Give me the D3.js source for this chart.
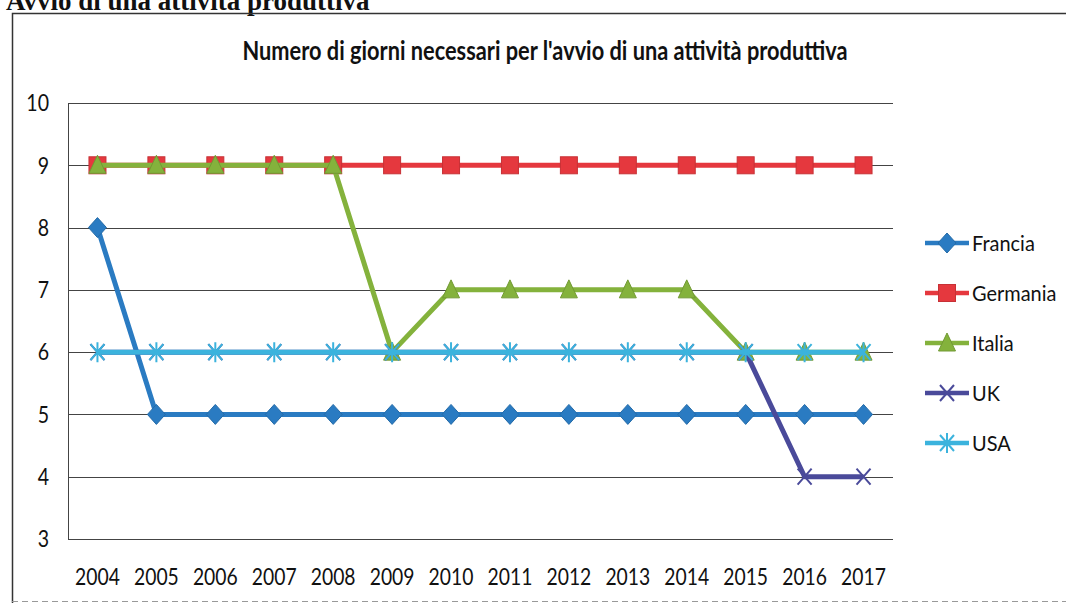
<!DOCTYPE html>
<html>
<head>
<meta charset="utf-8">
<script src="https://cdn.jsdelivr.net/npm/d3@7"></script>
<style>
  body { margin: 0; background: #fff; }
  svg { display: block; }
</style>
</head>
<body>
<div id="chart"></div>
<script>
var width = 1066;
var height = 603;

// data
var years = ["2004","2005","2006","2007","2008","2009","2010","2011","2012","2013","2014","2015","2016","2017"];
var yTicks = [3, 4, 5, 6, 7, 8, 9, 10];
var francia  = [8, 5, 5, 5, 5, 5, 5, 5, 5, 5, 5, 5, 5, 5];
var germania = [9, 9, 9, 9, 9, 9, 9, 9, 9, 9, 9, 9, 9, 9];
var italia   = [9, 9, 9, 9, 9, 6, 7, 7, 7, 7, 7, 6, 6, 6];
var uk       = [6, 6, 6, 6, 6, 6, 6, 6, 6, 6, 6, 6, 4, 4];
var usa      = [6, 6, 6, 6, 6, 6, 6, 6, 6, 6, 6, 6, 6, 6];
var seriesNames = ["Francia", "Germania", "Italia", "UK", "USA"];

var series = [
    {name: seriesNames[0], values: francia,  color: '#2a7bc2', marker: 'diamond'},
    {name: seriesNames[1], values: germania, color: '#e5383e', marker: 'square'},
    {name: seriesNames[2], values: italia,   color: '#84b23c', marker: 'triangle'},
    {name: seriesNames[3], values: uk,       color: '#4a4a9a', marker: 'x'},
    {name: seriesNames[4], values: usa,      color: '#3bb3dd', marker: 'star'}
];

var svg = d3.select("#chart").append("svg").attr('width', width).attr('height', height);

// squeeze a text horizontally so a large font looks like the narrow scan lettering
function condense(sel, factor) {
    sel.each(function() {
        var w = this.getComputedTextLength();
        d3.select(this).attr('textLength', w * factor).attr('lengthAdjust', 'spacingAndGlyphs');
    });
}

// cropped heading at the top of the scan
svg.append('text')
   .attr('x', 6).attr('y', 10)
   .text('Avvio di una attività produttiva')
   .style('font-family', '"Liberation Serif", serif')
   .style('font-weight', 'bold')
   .style('font-size', '27px')
   .attr('fill', '#111');

// chart frame
svg.append('path')
   .attr('d', 'M1066,13.5 H12.5 V603')
   .attr('fill', 'none').attr('stroke', '#333').attr('stroke-width', 1.5);
svg.append('line')
   .attr('x1', 12).attr('x2', 1066).attr('y1', 601.5).attr('y2', 601.5)
   .attr('stroke', '#999').attr('stroke-width', 1).attr('stroke-dasharray', '6,4');

var plot = {left: 68, right: 893, top: 103, bottom: 539};

var x = d3.scaleBand().domain(years).range([plot.left, plot.right]);
var y = d3.scaleLinear().domain([3, 10]).range([plot.bottom, plot.top]);

var g = svg.append('g').attr('class', 'plot');

// gridlines
g.selectAll('.grid').data(yTicks).enter().append('line')
 .attr('class', 'grid')
 .attr('x1', plot.left).attr('x2', plot.right)
 .attr('y1', d => Math.round(y(d)) + 0.5).attr('y2', d => Math.round(y(d)) + 0.5)
 .attr('stroke', '#444').attr('stroke-width', 1);

// left axis line
g.append('line')
 .attr('x1', plot.left + 0.5).attr('x2', plot.left + 0.5)
 .attr('y1', plot.top).attr('y2', plot.bottom)
 .attr('stroke', '#444').attr('stroke-width', 1);

var labelFont = 'Lato, "Open Sans", sans-serif';

// y tick labels
g.selectAll('.ylab').data(yTicks).enter().append('text')
 .attr('class', 'ylab')
 .attr('x', 49).attr('y', d => y(d))
 .attr('dy', '0.36em')
 .attr('text-anchor', 'end')
 .style('font-family', labelFont).style('font-size', '23px')
 .attr('fill', '#111')
 .text(d => d)
 .call(condense, 0.85);

// x tick labels
g.selectAll('.xlab').data(years).enter().append('text')
 .attr('class', 'xlab')
 .attr('x', d => x(d) + x.bandwidth() / 2).attr('y', 585)
 .attr('text-anchor', 'middle')
 .style('font-family', labelFont).style('font-size', '23px')
 .attr('fill', '#111')
 .text(d => d)
 .call(condense, 0.84);

// title
svg.append('text')
   .attr('x', 545).attr('y', 60)
   .attr('text-anchor', 'middle')
   .attr('textLength', 605).attr('lengthAdjust', 'spacingAndGlyphs')
   .style('font-family', labelFont).style('font-weight', 'bold').style('font-size', '26px')
   .attr('fill', '#111')
   .text("Numero di giorni necessari per l'avvio di una attività produttiva");

var line = d3.line()
             .x((d, i) => x(years[i]) + x.bandwidth() / 2)
             .y(d => y(d));

function drawMarker(sel, type, color) {
    if (type == 'diamond') {
        sel.append('path').attr('d', 'M0,-10 L9,0 L0,10 L-9,0 Z')
           .attr('fill', color).attr('stroke', d3.color(color).darker(0.4)).attr('stroke-width', 1);
    } else if (type == 'square') {
        sel.append('rect').attr('x', -8.5).attr('y', -8.5).attr('width', 17).attr('height', 17)
           .attr('fill', color).attr('stroke', d3.color(color).darker(0.4)).attr('stroke-width', 1);
    } else if (type == 'triangle') {
        sel.append('path').attr('d', 'M0,-10 L8.5,8 L-8.5,8 Z')
           .attr('fill', color).attr('stroke', d3.color(color).darker(0.4)).attr('stroke-width', 1);
    } else if (type == 'x') {
        sel.append('path').attr('d', 'M-7,-8 L7,8 M-7,8 L7,-8')
           .attr('stroke', color).attr('stroke-width', 2);
    } else if (type == 'star') {
        sel.append('path').attr('d', 'M-7,-8 L7,8 M-7,8 L7,-8 M0,-10 L0,10')
           .attr('stroke', color).attr('stroke-width', 2);
    }
}

series.forEach(function(s) {
    var sg = g.append('g').attr('class', 'series ' + s.name);
    sg.append('path')
      .attr('d', line(s.values))
      .attr('fill', 'none')
      .attr('stroke', s.color)
      .attr('stroke-width', 5)
      .attr('stroke-linejoin', 'round');
    s.values.forEach(function(v, i) {
        var m = sg.append('g')
                  .attr('transform', `translate(${x(years[i]) + x.bandwidth() / 2},${y(v)})`);
        drawMarker(m, s.marker, s.color);
    });
});

// legend
var legend = svg.append('g').attr('class', 'legend');
series.forEach(function(s, i) {
    var ly = 243 + i * 50;
    var lg = legend.append('g');
    lg.append('line')
      .attr('x1', 925).attr('x2', 969).attr('y1', ly).attr('y2', ly)
      .attr('stroke', s.color).attr('stroke-width', 4.5);
    var m = lg.append('g').attr('transform', `translate(947,${ly})`);
    drawMarker(m, s.marker, s.color);
    lg.append('text')
      .attr('x', 972).attr('y', ly).attr('dy', '0.36em')
      .style('font-family', labelFont).style('font-size', '21px')
      .attr('fill', '#111')
      .text(s.name)
      .call(condense, 0.95);
});
</script>
</body>
</html>
